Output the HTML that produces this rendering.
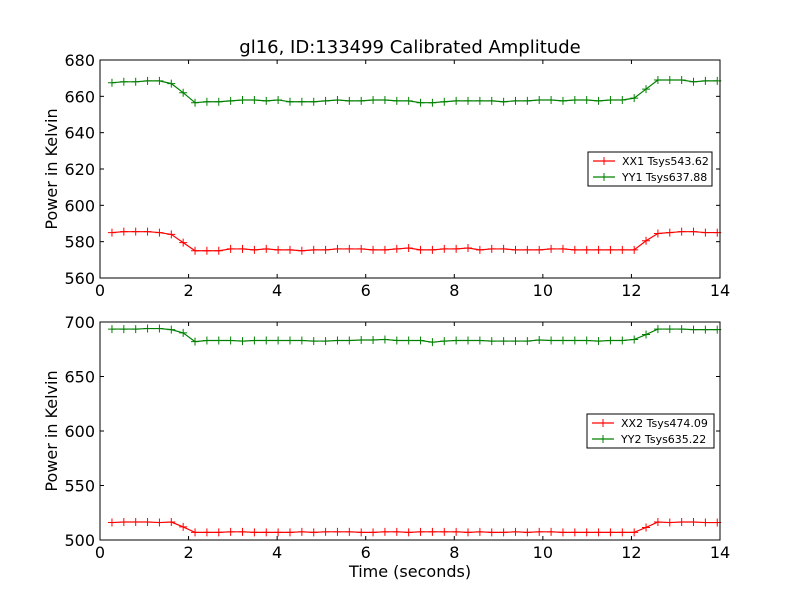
<!DOCTYPE html>
<html><head><meta charset="utf-8"><style>
body{margin:0;background:#fff}
text{font-family:"DejaVu Sans","Liberation Sans",sans-serif;fill:#000}
</style></head><body>
<svg id="c" width="800" height="600" xmlns="http://www.w3.org/2000/svg">
<rect width="800" height="600" fill="#fff"/>
<text x="410" y="53" font-size="18" text-anchor="middle">gl16, ID:133499 Calibrated Amplitude</text>
</svg>
<script>
const xTicks=[0,2,4,6,8,10,12,14];
const topTicks=[560,580,600,620,640,660,680];
const botTicks=[500,550,600,650,700];
const tStart=0.27, tStep=0.268;
const yy1=[667.5,668,668,668.5,668.5,667,662,656.5,657,657,657.5,658,658,657.5,658,657,657,657,657.5,658,657.5,657.5,658,658,657.5,657.5,656.5,656.5,657,657.5,657.5,657.5,657.5,657,657.5,657.5,658,658,657.5,658,658,657.5,658,658,659,664,669,669,669,668,668.5,668.5];
const xx1=[585,585.5,585.5,585.5,585,584,579.5,575,575,575,576,576,575.5,576,575.5,575.5,575,575.5,575.5,576,576,576,575.5,575.5,576,576.5,575.5,575.5,576,576,576.5,575.5,576,576,575.5,575.5,575.5,576,576,575.5,575.5,575.5,575.5,575.5,575.5,580.5,584.5,585,585.5,585.5,585,585];
const yy2=[693.5,693.5,693.5,694,694,693,690,682,683,683,683,682.5,683,683,683,683,683,682.5,682.5,683,683,683.5,683.5,684,683,683,683,681.5,682.5,683,683,683,682.5,682.5,682.5,682.5,683.5,683,683,683,683,682.5,683,683,684,688.5,693.5,693.5,693.5,693,693,693];
const xx2=[516,516.5,516.5,516.5,516,516.5,512,507,507,507,507.5,507.5,507,507,507,507,507.5,507,507.5,507.5,507.5,507,507,507.5,507.5,507,507.5,507.5,507.5,507.5,507,507.5,507,507,507.5,507,507.5,507.5,507,507,507,507,507,507,507,511.5,516.5,516,516.5,516.5,516,516];
const svg=document.getElementById('c');
const NS='http://www.w3.org/2000/svg';
function mk(tag,attrs,parent){const e=document.createElementNS(NS,tag);for(const k in attrs)e.setAttribute(k,attrs[k]);(parent||svg).appendChild(e);return e;}
const X0=100,X1=720;
const xs=v=>X0+(v-0)/14*(X1-X0);
function panel(top,bot,ymin,ymax,ticks,series,legend,showXLabel,pname){
  const ys=v=>bot-(v-ymin)/(ymax-ymin)*(bot-top);
  const g=mk('g',{});
  
  
  xTicks.forEach(t=>{
    const x=xs(t);
    mk('line',{x1:x,x2:x,y1:bot,y2:bot-4,stroke:'#000'},g);
    mk('line',{x1:x,x2:x,y1:top,y2:top+4,stroke:'#000'},g);
    const tx=mk('text',{x:x,y:bot+18,'font-size':16,'text-anchor':'middle'},g);tx.textContent=t;
    
    
  });
  ticks.forEach(t=>{
    const y=ys(t);
    mk('line',{x1:X0,x2:X0+4,y1:y,y2:y,stroke:'#000'},g);
    mk('line',{x1:X1,x2:X1-4,y1:y,y2:y,stroke:'#000'},g);
    const tx=mk('text',{x:X0-5,y:y+6,'font-size':16,'text-anchor':'end'},g);tx.textContent=t;
    
    
  });
  series.forEach(s=>{
    const pts=s.d.map((v,i)=>[xs(tStart+i*tStep),ys(v)]);
    const pl=mk('polyline',{points:pts.map(p=>p.join(',')).join(' '),fill:'none',stroke:s.c,'stroke-width':1.2},g);
    
    
    pts.forEach(p=>{
      const m=mk('path',{d:`M${p[0]-4},${p[1]}h8M${p[0]},${p[1]-4}v8`,stroke:s.c,'stroke-width':1},g);
      
      
    });
  });
  mk('rect',{x:X0,y:top,width:X1-X0,height:bot-top,fill:'none',stroke:'#000','stroke-width':1},g);
  const yl=mk('text',{x:0,y:0,'font-size':16,'text-anchor':'middle',transform:`translate(57,${(top+bot)/2}) rotate(-90)`},g);
  yl.textContent='Power in Kelvin';
  
  
  if(showXLabel){const xl=mk('text',{x:410,y:577,'font-size':16,'text-anchor':'middle'},g);xl.textContent='Time (seconds)';
    
    }
  const lg=mk('g',{},g);
  
  
  mk('rect',{x:legend.x,y:legend.y,width:legend.w,height:34,fill:'#fff',stroke:'#000','stroke-width':1},lg);
  series.forEach((s,i)=>{
    const y=legend.y+9+i*16;
    mk('line',{x1:legend.x+5,x2:legend.x+27,y1:y,y2:y,stroke:s.c,'stroke-width':1.2},lg);
    mk('path',{d:`M${legend.x+12},${y}h6M${legend.x+16},${y-4}v8`,stroke:s.c},lg);
    const t=mk('text',{x:legend.x+34,y:y+4,'font-size':11},lg);t.textContent=s.label;
    
    
  });
}
panel(60,278,560,680,topTicks,[{d:xx1,c:'#ff0000',n:'xx1',label:'XX1 Tsys543.62'},{d:yy1,c:'#008000',n:'yy1',label:'YY1 Tsys637.88'}],{x:588,y:152,w:124},false,'top-panel');
panel(322,540,500,700,botTicks,[{d:xx2,c:'#ff0000',n:'xx2',label:'XX2 Tsys474.09'},{d:yy2,c:'#008000',n:'yy2',label:'YY2 Tsys635.22'}],{x:587,y:414,w:127},true,'bottom-panel');
</script>
</body></html>
